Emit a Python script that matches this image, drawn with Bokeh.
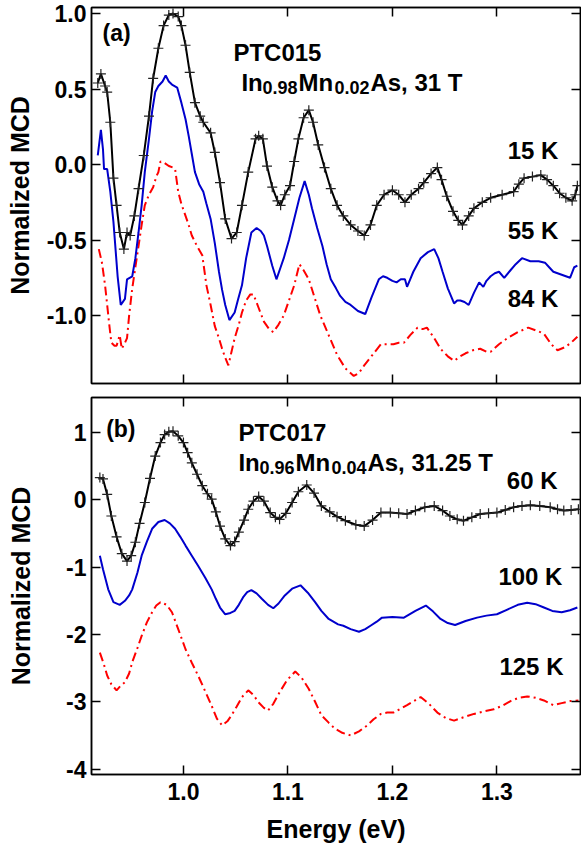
from bokeh.plotting import figure
from bokeh.models import Range1d, LinearAxis, FixedTicker, PrintfTickFormatter, CustomJSTickFormatter
from bokeh.layouts import column
from bokeh.core.properties import value
from bokeh.embed import file_html
from bokeh.resources import INLINE

# ---------------- data: panel (a) PTC015, In0.98Mn0.02As, 31 T ----------------
e_15K = [0.918, 0.921, 0.925, 0.927, 0.930, 0.933, 0.936, 0.939, 0.943, 0.946, 0.949, 0.953,
         0.957, 0.962, 0.967, 0.971, 0.976, 0.981, 0.986, 0.990, 0.995, 0.998, 1.002, 1.006,
         1.011, 1.016, 1.019, 1.026, 1.030, 1.035, 1.040, 1.046, 1.051, 1.056, 1.062, 1.069,
         1.072, 1.076, 1.080, 1.085, 1.090, 1.093, 1.097, 1.102, 1.106, 1.110, 1.115, 1.120,
         1.124, 1.129, 1.135, 1.141, 1.147, 1.153, 1.160, 1.167, 1.173, 1.179, 1.185, 1.192,
         1.200, 1.206, 1.212, 1.218, 1.225, 1.230, 1.237, 1.243, 1.247, 1.252, 1.258, 1.263,
         1.267, 1.273, 1.278, 1.286, 1.294, 1.305, 1.316, 1.321, 1.326, 1.334, 1.342, 1.348,
         1.354, 1.360, 1.366, 1.372, 1.375, 1.377]
mcd_15K = [0.54, 0.60, 0.52, 0.48, 0.28, -0.09, -0.27, -0.45, -0.56, -0.45, -0.47, -0.34,
           -0.16, 0.06, 0.32, 0.57, 0.77, 0.92, 0.99, 1.00, 0.98, 0.92, 0.79, 0.61,
           0.41, 0.32, 0.28, 0.21, 0.08, -0.12, -0.36, -0.49, -0.45, -0.27, -0.05, 0.17,
           0.19, 0.17, -0.01, -0.15, -0.24, -0.27, -0.20, -0.14, 0.02, 0.17, 0.31, 0.36,
           0.28, 0.13, -0.02, -0.16, -0.27, -0.34, -0.40, -0.44, -0.47, -0.40, -0.27, -0.20,
           -0.17, -0.20, -0.25, -0.20, -0.16, -0.12, -0.06, -0.02, -0.10, -0.21, -0.31, -0.37,
           -0.40, -0.34, -0.29, -0.25, -0.22, -0.20, -0.18, -0.13, -0.09, -0.08, -0.07, -0.10,
           -0.14, -0.19, -0.22, -0.24, -0.20, -0.14]

e_55K = [0.918, 0.921, 0.923, 0.924, 0.927, 0.930, 0.933, 0.937, 0.940, 0.944, 0.946, 0.951,
         0.954, 0.957, 0.960, 0.963, 0.967, 0.970, 0.973, 0.976, 0.980, 0.983, 0.986, 0.989,
         0.994, 0.998, 1.002, 1.005, 1.008, 1.011, 1.015, 1.019, 1.022, 1.026, 1.030, 1.034,
         1.037, 1.040, 1.044, 1.049, 1.052, 1.056, 1.060, 1.065, 1.070, 1.074, 1.077, 1.080,
         1.085, 1.089, 1.093, 1.096, 1.101, 1.106, 1.111, 1.116, 1.120, 1.123, 1.128, 1.133,
         1.137, 1.141, 1.146, 1.150, 1.155, 1.160, 1.167, 1.174, 1.180, 1.187, 1.191, 1.195,
         1.200, 1.204, 1.208, 1.212, 1.214, 1.217, 1.220, 1.227, 1.234, 1.240, 1.244, 1.248,
         1.253, 1.259, 1.262, 1.265, 1.269, 1.273, 1.278, 1.283, 1.287, 1.290, 1.294, 1.298,
         1.302, 1.307, 1.313, 1.318, 1.324, 1.332, 1.340, 1.346, 1.350, 1.354, 1.362, 1.370,
         1.374, 1.377]
mcd_55K = [0.06, 0.23, 0.10, -0.03, -0.03, -0.18, -0.38, -0.74, -0.93, -0.89, -0.76, -0.74,
           -0.62, -0.45, -0.27, -0.05, 0.17, 0.35, 0.48, 0.52, 0.55, 0.59, 0.55, 0.53,
           0.51, 0.41, 0.30, 0.19, 0.07, -0.05, -0.13, -0.18, -0.26, -0.36, -0.52, -0.71,
           -0.83, -0.93, -1.03, -0.98, -0.90, -0.80, -0.62, -0.45, -0.42, -0.44, -0.47, -0.54,
           -0.67, -0.76, -0.68, -0.62, -0.50, -0.36, -0.22, -0.11, -0.20, -0.29, -0.42, -0.54,
           -0.66, -0.76, -0.82, -0.87, -0.91, -0.93, -0.97, -0.99, -0.88, -0.76, -0.74, -0.75,
           -0.77, -0.78, -0.76, -0.76, -0.81, -0.76, -0.71, -0.62, -0.58, -0.56, -0.62, -0.71,
           -0.82, -0.92, -0.90, -0.90, -0.91, -0.93, -0.85, -0.78, -0.81, -0.77, -0.74, -0.72,
           -0.71, -0.75, -0.70, -0.66, -0.62, -0.64, -0.64, -0.65, -0.68, -0.71, -0.73, -0.75,
           -0.68, -0.67]

e_84K = [0.919, 0.922, 0.925, 0.927, 0.929, 0.931, 0.934, 0.936, 0.939, 0.941, 0.944, 0.946,
         0.948, 0.951, 0.954, 0.957, 0.960, 0.963, 0.967, 0.971, 0.974, 0.976, 0.978, 0.982,
         0.986, 0.990, 0.992, 0.995, 0.998, 1.002, 1.005, 1.008, 1.013, 1.018, 1.022, 1.026,
         1.030, 1.034, 1.037, 1.040, 1.043, 1.046, 1.049, 1.053, 1.056, 1.060, 1.064, 1.067,
         1.072, 1.077, 1.082, 1.086, 1.091, 1.096, 1.101, 1.106, 1.111, 1.115, 1.120, 1.125,
         1.131, 1.139, 1.147, 1.155, 1.163, 1.168, 1.173, 1.181, 1.189, 1.195, 1.201, 1.206,
         1.211, 1.217, 1.224, 1.229, 1.233, 1.240, 1.246, 1.253, 1.259, 1.265, 1.270, 1.277,
         1.284, 1.290, 1.294, 1.302, 1.310, 1.320, 1.330, 1.338, 1.345, 1.352, 1.358, 1.365,
         1.371, 1.377]
mcd_84K = [-0.56, -0.65, -0.80, -0.93, -1.06, -1.18, -1.20, -1.20, -1.13, -1.22, -1.18, -1.15,
           -1.00, -0.82, -0.68, -0.54, -0.40, -0.27, -0.20, -0.15, -0.08, -0.05, 0.02, 0.01,
           -0.01, -0.02, -0.03, -0.18, -0.26, -0.34, -0.40, -0.47, -0.54, -0.60, -0.80, -0.93,
           -1.07, -1.15, -1.22, -1.28, -1.33, -1.24, -1.15, -1.06, -0.98, -0.90, -0.86, -0.86,
           -0.95, -1.04, -1.09, -1.11, -1.06, -1.00, -0.90, -0.80, -0.66, -0.70, -0.76, -0.87,
           -1.00, -1.13, -1.26, -1.35, -1.40, -1.38, -1.33, -1.26, -1.19, -1.19, -1.19, -1.18,
           -1.18, -1.13, -1.08, -1.09, -1.08, -1.15, -1.22, -1.27, -1.30, -1.27, -1.25, -1.23,
           -1.22, -1.24, -1.24, -1.19, -1.15, -1.11, -1.08, -1.10, -1.12, -1.19, -1.23, -1.21,
           -1.18, -1.14]

# ---------------- data: panel (b) PTC017, In0.96Mn0.04As, 31.25 T ----------------
e_60K = [0.920, 0.923, 0.927, 0.931, 0.936, 0.941, 0.946, 0.950, 0.954, 0.958, 0.963, 0.968,
         0.973, 0.978, 0.982, 0.986, 0.990, 0.995, 1.000, 1.004, 1.008, 1.013, 1.018, 1.023,
         1.027, 1.031, 1.035, 1.040, 1.045, 1.049, 1.053, 1.058, 1.062, 1.067, 1.072, 1.077,
         1.083, 1.088, 1.092, 1.098, 1.104, 1.110, 1.118, 1.125, 1.132, 1.140, 1.147, 1.155,
         1.165, 1.173, 1.181, 1.189, 1.198, 1.206, 1.214, 1.222, 1.231, 1.240, 1.248, 1.255,
         1.262, 1.268, 1.276, 1.284, 1.292, 1.300, 1.308, 1.316, 1.324, 1.332, 1.341, 1.351,
         1.358, 1.364, 1.371, 1.378]
mcd_60K = [0.33, 0.31, 0.08, -0.24, -0.55, -0.80, -0.91, -0.83, -0.63, -0.35, -0.04, 0.32,
           0.65, 0.85, 0.97, 1.01, 1.02, 0.95, 0.85, 0.70, 0.55, 0.38, 0.21, 0.09,
           0.01, -0.18, -0.39, -0.58, -0.68, -0.62, -0.48, -0.30, -0.14, -0.02, 0.05, -0.02,
           -0.19, -0.26, -0.29, -0.20, -0.04, 0.12, 0.22, 0.10, -0.09, -0.18, -0.25, -0.31,
           -0.37, -0.39, -0.30, -0.19, -0.19, -0.20, -0.21, -0.16, -0.11, -0.09, -0.16, -0.24,
           -0.29, -0.31, -0.26, -0.21, -0.20, -0.19, -0.15, -0.11, -0.09, -0.08, -0.09, -0.11,
           -0.14, -0.16, -0.15, -0.14]

e_100K = [0.920, 0.923, 0.928, 0.933, 0.939, 0.944, 0.948, 0.951, 0.956, 0.960, 0.965, 0.970,
          0.976, 0.982, 0.987, 0.992, 0.997, 1.002, 1.008, 1.014, 1.021, 1.027, 1.031, 1.035,
          1.040, 1.045, 1.049, 1.053, 1.057, 1.061, 1.065, 1.070, 1.075, 1.081, 1.086, 1.091,
          1.097, 1.104, 1.112, 1.119, 1.126, 1.132, 1.139, 1.148, 1.153, 1.160, 1.168, 1.174,
          1.179, 1.185, 1.190, 1.200, 1.211, 1.222, 1.232, 1.239, 1.246, 1.253, 1.260, 1.270,
          1.281, 1.290, 1.300, 1.310, 1.320, 1.329, 1.337, 1.345, 1.353, 1.362, 1.370, 1.377]
mcd_100K = [-0.83, -1.03, -1.33, -1.52, -1.56, -1.50, -1.42, -1.33, -1.08, -0.83, -0.62, -0.43,
            -0.33, -0.30, -0.35, -0.43, -0.55, -0.68, -0.83, -0.98, -1.16, -1.33, -1.47, -1.60,
            -1.70, -1.68, -1.65, -1.56, -1.45, -1.37, -1.34, -1.39, -1.47, -1.56, -1.61, -1.54,
            -1.42, -1.32, -1.27, -1.38, -1.52, -1.65, -1.77, -1.85, -1.87, -1.92, -1.96, -1.92,
            -1.87, -1.81, -1.75, -1.74, -1.75, -1.65, -1.57, -1.66, -1.77, -1.83, -1.86, -1.80,
            -1.75, -1.72, -1.70, -1.63, -1.56, -1.53, -1.55, -1.60, -1.65, -1.67, -1.64, -1.60]

e_125K = [0.920, 0.924, 0.927, 0.931, 0.936, 0.940, 0.944, 0.948, 0.951, 0.956, 0.960, 0.965,
          0.970, 0.974, 0.978, 0.984, 0.989, 0.995, 1.002, 1.008, 1.014, 1.021, 1.027, 1.032,
          1.037, 1.042, 1.046, 1.051, 1.056, 1.062, 1.067, 1.072, 1.077, 1.081, 1.086, 1.092,
          1.099, 1.107, 1.113, 1.120, 1.126, 1.132, 1.139, 1.145, 1.152, 1.160, 1.168, 1.176,
          1.182, 1.189, 1.195, 1.201, 1.214, 1.227, 1.235, 1.243, 1.251, 1.259, 1.268, 1.278,
          1.288, 1.297, 1.305, 1.313, 1.321, 1.329, 1.337, 1.345, 1.354, 1.362, 1.370, 1.378]
mcd_125K = [-2.27, -2.45, -2.61, -2.74, -2.83, -2.76, -2.71, -2.58, -2.41, -2.20, -2.02, -1.82,
            -1.67, -1.57, -1.52, -1.56, -1.67, -1.92, -2.22, -2.42, -2.61, -2.85, -3.06, -3.25,
            -3.35, -3.29, -3.20, -3.07, -2.93, -2.83, -2.90, -3.01, -3.09, -3.13, -3.03, -2.86,
            -2.68, -2.55, -2.64, -2.81, -3.00, -3.20, -3.31, -3.40, -3.46, -3.50, -3.44, -3.35,
            -3.26, -3.18, -3.16, -3.16, -3.05, -2.93, -3.03, -3.16, -3.24, -3.28, -3.23, -3.18,
            -3.14, -3.11, -3.06, -2.99, -2.94, -2.92, -2.94, -2.98, -3.05, -3.02, -2.99, -2.98]

# ---------------- ticks / labels ----------------
x_ticks = [1.0, 1.1, 1.2, 1.3]
ya_ticks = [-1.0, -0.5, 0.0, 0.5, 1.0]
yb_ticks = [-4, -3, -2, -1, 0, 1]
labels_a = ["15 K", "55 K", "84 K"]
labels_b = ["60 K", "100 K", "125 K"]

FONT = "Liberation Sans"
BLACK = "black"
BLUE = "#0000CC"
RED = "#FF0000"


def style_axis(ax, ticks, fmt, show_labels):
    ax.ticker = FixedTicker(ticks=ticks)
    ax.major_tick_in = 9
    ax.major_tick_out = 0
    ax.minor_tick_line_color = None
    ax.axis_line_width = 1.5
    ax.axis_line_color = "black"
    ax.major_tick_line_width = 1.5
    ax.major_tick_line_color = "black"
    ax.major_label_text_font = FONT
    ax.major_label_text_font_style = "bold"
    ax.axis_label_text_font = FONT
    ax.axis_label_text_font_style = "bold"
    ax.axis_label_text_font_size = "25px"
    ax.axis_label_text_color = "black"
    if show_labels:
        ax.formatter = PrintfTickFormatter(format=fmt)
        ax.major_label_text_font_size = "23px"
        ax.major_label_text_color = "black"
    else:
        # mirrored / unlabeled axis: ticks only, no tick labels drawn
        ax.formatter = CustomJSTickFormatter(code="return ''")
        ax.major_label_text_font_size = "1px"
        ax.major_label_text_color = None
        ax.major_label_standoff = 0


def make_panel(height, yr, yticks, yfmt, bottom_labels, border_bottom):
    p = figure(width=581, height=height, x_range=Range1d(0.912, 1.38), y_range=yr,
               output_backend="svg", toolbar_location=None,
               x_axis_location=None, y_axis_location=None,
               min_border_left=91, min_border_right=1, min_border_top=7,
               min_border_bottom=border_bottom)
    p.xgrid.visible = False
    p.ygrid.visible = False
    p.outline_line_color = "black"
    p.outline_line_width = 1.5
    p.background_fill_color = "white"
    p.border_fill_color = "white"
    xax = LinearAxis()
    style_axis(xax, x_ticks, "%.1f", bottom_labels)
    p.add_layout(xax, "below")
    yax = LinearAxis(axis_label="Normalized MCD")
    style_axis(yax, yticks, yfmt, True)
    yax.major_label_standoff = 5
    p.add_layout(yax, "left")
    top = LinearAxis()
    style_axis(top, x_ticks, "%.1f", False)
    p.add_layout(top, "above")
    right = LinearAxis()
    style_axis(right, yticks, yfmt, False)
    p.add_layout(right, "right")
    return p, xax, yax


def add_text(p, x, y, texts, size, align="left", baseline="middle", x_offset=0, y_offset=0):
    p.text(x=x, y=y, text=texts, x_offset=x_offset, y_offset=y_offset,
           text_font=value(FONT), text_font_style="bold", text_font_size=size,
           text_color="black", text_align=align, text_baseline=baseline)


# ---------------- panel (a) ----------------
pa, xa, ya = make_panel(390, Range1d(-1.45, 1.04), ya_ticks, "%.1f", False, 7)
ya.axis_label_standoff = 10
pa.line(e_84K, mcd_84K, line_color=RED, line_width=2, line_dash="9 4 2 4")
pa.line(e_55K, mcd_55K, line_color=BLUE, line_width=2)
pa.line(e_15K, mcd_15K, line_color=BLACK, line_width=2)
pa.scatter(e_15K, mcd_15K, marker="cross", size=10, line_color="#222222", line_width=1.2)

add_text(pa, [0.9225], [0.874], ["(a)"], "23px")
add_text(pa, [1.0478], [0.742], ["PTC015"], "24px", baseline="alphabetic")
add_text(pa, [1.0555] * 3, [0.543] * 3, ["In", "Mn", "As, 31 T"], "24px",
         baseline="alphabetic", x_offset=[0, 57, 129])
add_text(pa, [1.0555] * 2, [0.543] * 2, ["0.98", "0.02"], "18px",
         baseline="alphabetic", x_offset=[21, 93], y_offset=5)
add_text(pa, [1.3589] * 3, [0.093, -0.437, -0.887], labels_a, "24px", align="right")

# ---------------- panel (b) ----------------
pb, xb, yb = make_panel(455, Range1d(-4.08, 1.52), yb_ticks, "%d", True, 71)
yb.axis_label_standoff = 28
xb.axis_label = "Energy (eV)"
xb.major_label_standoff = 8
xb.axis_label_standoff = 12
pb.line(e_125K, mcd_125K, line_color=RED, line_width=2, line_dash="9 4 2 4")
pb.line(e_100K, mcd_100K, line_color=BLUE, line_width=2)
pb.line(e_60K, mcd_60K, line_color=BLACK, line_width=2)
pb.scatter(e_60K, mcd_60K, marker="cross", size=10, line_color="#222222", line_width=1.2)

add_text(pb, [0.926], [1.053], ["(b)"], "23px")
add_text(pb, [1.0526], [0.994], ["PTC017"], "24px", baseline="alphabetic")
add_text(pb, [1.0526] * 3, [0.549] * 3, ["In", "Mn", "As, 31.25 T"], "24px",
         baseline="alphabetic", x_offset=[0, 57, 129])
add_text(pb, [1.0526] * 2, [0.549] * 2, ["0.96", "0.04"], "18px",
         baseline="alphabetic", x_offset=[21, 93], y_offset=5)
add_text(pb, [1.358, 1.3627, 1.3637], [0.282, -1.142, -2.478], labels_b, "24px", align="right")

layout = column(pa, pb, spacing=0)
open("out.html", "w").write(file_html(layout, INLINE))
